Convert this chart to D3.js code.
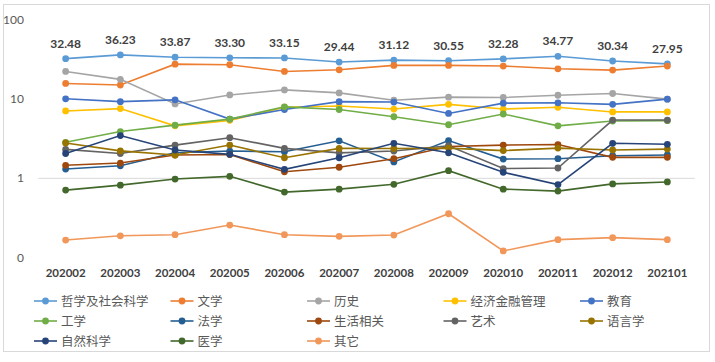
<!DOCTYPE html>
<html>
<head>
<meta charset="utf-8">
<script src="https://cdn.jsdelivr.net/npm/d3@7"></script>
<style>
  body { margin: 0; background: #fff; }
  svg { display: block; }
</style>
</head>
<body>
<div id="chart"></div>
<script>

const months = ["202002", "202003", "202004", "202005", "202006", "202007",
                "202008", "202009", "202010", "202011", "202012", "202101"];

const yTicks = [0.1, 1, 10, 100];
const yTickLabels = ["0", "1", "10", "100"];

const names = ["哲学及社会科学", "文学", "历史", "经济金融管理", "教育",
               "工学", "法学", "生活相关", "艺术", "语言学",
               "自然科学", "医学", "其它"];

const philosophy  = [32.48, 36.23, 33.87, 33.30, 33.15, 29.44, 31.12, 30.55, 32.28, 34.77, 30.34, 27.95];
const literature  = [15.8, 15.1, 27.7, 27.2, 22.4, 23.5, 26.7, 26.7, 26.2, 24.2, 23.3, 26.2];
const history     = [22.4, 17.8, 8.7, 11.3, 13.1, 12.0, 9.7, 10.6, 10.5, 11.2, 11.8, 10.0];
const economics   = [7.1, 7.6, 4.6, 5.4, 7.9, 8.2, 7.5, 8.6, 7.5, 7.9, 6.9, 6.9];
const education   = [10.1, 9.3, 9.8, 5.6, 7.4, 9.3, 9.2, 6.6, 8.9, 9.0, 8.6, 10.0];
const engineering = [2.85, 3.9, 4.7, 5.6, 8.0, 7.4, 6.0, 4.75, 6.5, 4.6, 5.3, 5.35];
const law         = [1.31, 1.44, 2.1, 2.21, 2.17, 2.98, 1.61, 3.0, 1.75, 1.77, 1.93, 1.97];
const life        = [1.46, 1.56, 1.97, 2.0, 1.21, 1.38, 1.77, 2.52, 2.63, 2.67, 1.84, 1.84];
const art         = [2.32, 2.06, 2.63, 3.26, 2.39, 2.10, 2.21, 2.58, 1.33, 1.35, 5.45, 5.45];
const language    = [2.8, 2.22, 1.97, 2.63, 1.82, 2.39, 2.38, 2.41, 2.24, 2.41, 2.28, 2.34];
const science     = [2.06, 3.47, 2.28, 2.01, 1.30, 1.82, 2.77, 2.10, 1.19, 0.835, 2.77, 2.69];
const medicine    = [0.71, 0.82, 0.98, 1.06, 0.67, 0.73, 0.84, 1.25, 0.73, 0.69, 0.85, 0.90];
const other       = [0.166, 0.188, 0.194, 0.257, 0.194, 0.185, 0.192, 0.357, 0.121, 0.168, 0.178, 0.168];

const seriesValues = [philosophy, literature, history, economics, education,
                      engineering, law, life, art, language,
                      science, medicine, other];

const colors = ["#5B9BD5", "#ED7D31", "#A5A5A5", "#FFC000", "#4472C4",
                "#70AD47", "#255E91", "#9E480E", "#636363", "#997300",
                "#264478", "#43682B", "#F1975A"];

// labels shown above the first series
const labelSeries = 0;

const W = 715, H = 362;
const numFont = "Lato, 'Liberation Sans', sans-serif";
const cjkFont = "'Noto Sans CJK SC', 'Noto Sans', sans-serif";

const svg = d3.select('#chart').append('svg')
  .attr('width', W)
  .attr('height', H);

// outer chart frame
svg.append('rect')
  .attr('x', 3.5).attr('y', 4.5)
  .attr('width', 706).attr('height', 347)
  .attr('fill', '#fff')
  .attr('stroke', '#D9D9D9')
  .attr('stroke-width', 1);

const x = d3.scaleBand()
  .domain(months)
  .range([38.3, 694.7]);

const cx = (m) => x(m) + x.bandwidth() / 2;

const y = d3.scaleLog()
  .domain([0.1, 100])
  .range([257.5, 20]);

// horizontal axis line crosses at 1
svg.append('line')
  .attr('x1', x.range()[0]).attr('x2', x.range()[1])
  .attr('y1', y(1)).attr('y2', y(1))
  .attr('stroke', '#D9D9D9')
  .attr('stroke-width', 1);

// y tick labels
svg.append('g')
  .selectAll('text').data(yTicks)
  .enter()
  .append('text')
    .attr('x', 24)
    .attr('y', d => y(d) + 4)
    .attr('text-anchor', 'end')
    .attr('font-family', numFont)
    .attr('font-size', 12)
    .attr('fill', '#595959')
    .text((d, i) => yTickLabels[i]);

// x tick labels
svg.append('g')
  .selectAll('text').data(months)
  .enter()
  .append('text')
    .attr('x', d => cx(d))
    .attr('y', 277)
    .attr('text-anchor', 'middle')
    .attr('font-family', numFont)
    .attr('font-weight', 'bold')
    .attr('font-size', 11.5)
    .attr('fill', '#404040')
    .text(d => d);

const line = d3.line()
  .x((d, i) => cx(months[i]))
  .y(d => y(d));

seriesValues.forEach((vals, si) => {
  const g = svg.append('g');
  g.append('path')
    .attr('d', line(vals))
    .attr('fill', 'none')
    .attr('stroke', colors[si])
    .attr('stroke-width', 1.6);
  g.selectAll('circle').data(vals)
    .enter()
    .append('circle')
      .attr('cx', (d, i) => cx(months[i]))
      .attr('cy', d => y(d))
      .attr('r', 3.4)
      .attr('fill', colors[si]);
});

// data labels
svg.append('g')
  .selectAll('text').data(seriesValues[labelSeries])
  .enter()
  .append('text')
    .attr('x', (d, i) => cx(months[i]))
    .attr('y', d => y(d) - 11)
    .attr('text-anchor', 'middle')
    .attr('font-family', numFont)
    .attr('font-weight', 'bold')
    .attr('font-size', 12)
    .attr('fill', '#404040')
    .text(d => d.toFixed(2));

// legend
const legend = svg.append('g');
names.forEach((name, i) => {
  const col = i % 5, row = Math.floor(i / 5);
  const lx = 34 + col * 136.5;
  const ly = 301 + row * 20;
  const item = legend.append('g').attr('transform', `translate(${lx},${ly})`);
  item.append('line')
    .attr('x1', 0).attr('x2', 23)
    .attr('y1', 0).attr('y2', 0)
    .attr('stroke', colors[i])
    .attr('stroke-width', 1.6);
  item.append('circle')
    .attr('cx', 11.5).attr('cy', 0)
    .attr('r', 3.4)
    .attr('fill', colors[i]);
  item.append('text')
    .attr('x', 27)
    .attr('y', 4.5)
    .attr('font-family', cjkFont)
    .attr('font-size', 12.5)
    .attr('fill', '#595959')
    .text(name);
});

</script>
</body>
</html>
